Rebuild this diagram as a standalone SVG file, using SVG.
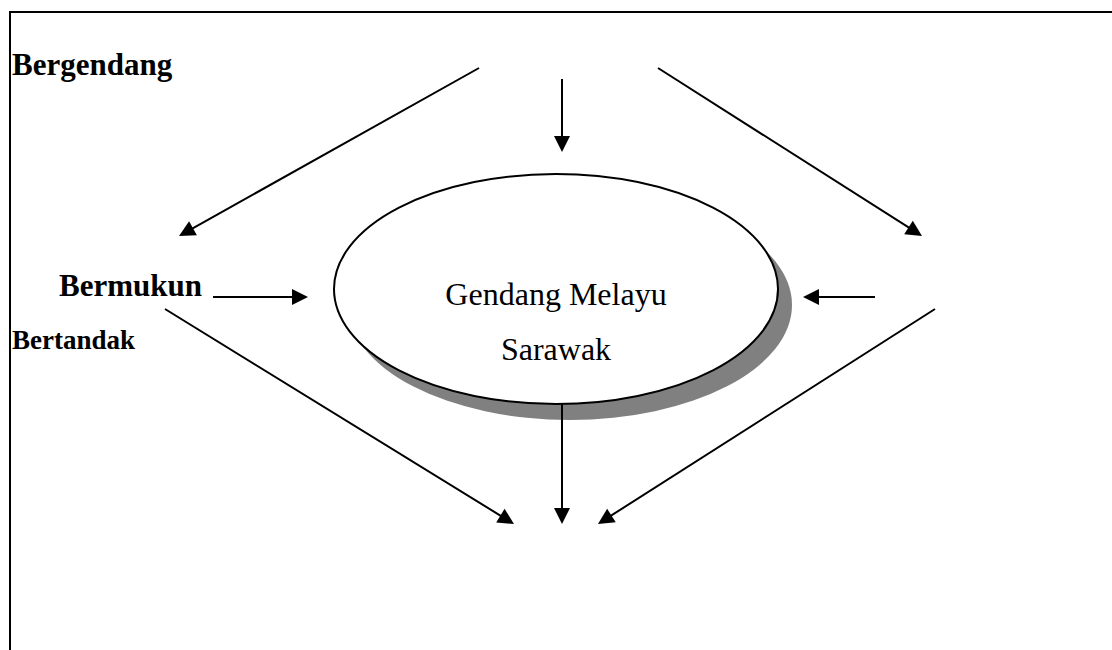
<svg xmlns="http://www.w3.org/2000/svg" width="1112" height="650" viewBox="0 0 1112 650">
<style>
.conn{stroke:#000;stroke-width:2;fill:none;marker-end:url(#ah)}
.lbl{font-family:"Liberation Serif","Times New Roman",serif;font-weight:bold;fill:#000}
.ctext{font-family:"Liberation Serif","Times New Roman",serif;font-size:32px;fill:#000;text-anchor:middle}
</style>
<defs>
<marker id="ah" markerUnits="userSpaceOnUse" markerWidth="16" markerHeight="16" refX="8" refY="8" orient="auto" overflow="visible">
<path d="M0,0 L16,8 L0,16 z" fill="#000"/>
</marker>
</defs>
<rect width="1112" height="650" fill="#fff"/>
<g id="frame">
<path d="M10,650 V12 H1112" stroke="#000" stroke-width="2" fill="none"/>
</g>
<g id="center">
<ellipse cx="570" cy="305" rx="222" ry="115" fill="#808080"/>
<ellipse cx="556" cy="289" rx="222" ry="115" fill="#fff" stroke="#000" stroke-width="2"/>
<text class="ctext" x="556" y="305">Gendang Melayu</text>
<text class="ctext" x="556" y="360">Sarawak</text>
</g>
<g id="bergendang"><text class="lbl" x="12" y="75" font-size="31">Bergendang</text></g>
<g id="bermukun"><text class="lbl" x="59" y="296" font-size="31">Bermukun</text></g>
<g id="bertandak"><text class="lbl" x="12" y="349" font-size="27">Bertandak</text></g>
<g id="connectors">
<line class="conn" x1="479" y1="68" x2="186" y2="232.1"/>
<line class="conn" x1="562" y1="79" x2="562" y2="144"/>
<line class="conn" x1="658" y1="68" x2="915.25" y2="231.7"/>
<line class="conn" x1="213" y1="297" x2="300" y2="297"/>
<line class="conn" x1="875" y1="297" x2="811" y2="297"/>
<line class="conn" x1="165" y1="309" x2="507.2" y2="519.8"/>
<line class="conn" x1="562" y1="404" x2="562" y2="516"/>
<line class="conn" x1="935" y1="309" x2="604.7" y2="519.7"/>
</g>
</svg>
